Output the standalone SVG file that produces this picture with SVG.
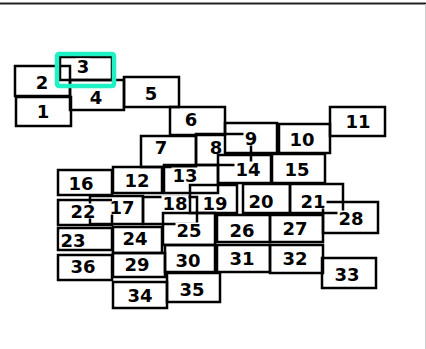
<svg xmlns="http://www.w3.org/2000/svg" width="426" height="349" viewBox="0 0 426 349">
<style>
.box{fill:none;stroke:#000;stroke-width:2.5}
.bg{fill:#fff;stroke:none}
.lbl{font-family:"DejaVu Sans","Verdana",sans-serif;font-weight:bold;font-size:18px;fill:#000;text-anchor:middle}
</style>
<rect x="0" y="0" width="426" height="349" fill="#fff"/>
<line x1="0" y1="3.5" x2="426" y2="3.5" stroke="#222" stroke-width="2"/>
<line x1="425.5" y1="4" x2="425.5" y2="349" stroke="#ccc" stroke-width="1"/>
<g id="connectors"></g>
<g id="n1"><rect class="box" x="16" y="97" width="55" height="29"/><rect class="bg" x="35.5" y="103.5" width="15" height="15"/><text class="lbl" x="43" y="117.5">1</text></g>
<g id="n2"><rect class="box" x="15" y="66" width="55" height="30"/><rect class="bg" x="34.5" y="74.5" width="15" height="15"/><text class="lbl" x="42" y="88.5">2</text></g>
<g id="n3"><rect class="box" x="60" y="57" width="52" height="23"/><rect class="bg" x="75.5" y="58.5" width="15" height="15"/><text class="lbl" x="83" y="72.5">3</text></g>
<g id="n4"><rect class="box" x="70" y="80" width="54" height="30"/><rect class="bg" x="88.5" y="89.5" width="15" height="15"/><text class="lbl" x="96" y="103.5">4</text></g>
<g id="n5"><rect class="box" x="124" y="77" width="55" height="30"/><rect class="bg" x="143.5" y="85.5" width="15" height="15"/><text class="lbl" x="151" y="99.5">5</text></g>
<g id="n6"><rect class="box" x="170" y="107" width="55" height="28"/><rect class="bg" x="183.5" y="111.5" width="15" height="15"/><text class="lbl" x="191" y="125.5">6</text></g>
<g id="n7"><rect class="box" x="141" y="136" width="55" height="31"/><rect class="bg" x="153.5" y="139.5" width="15" height="15"/><text class="lbl" x="161" y="153.5">7</text></g>
<g id="n8"><rect class="box" x="196" y="134" width="55" height="31"/><rect class="bg" x="208.5" y="139.5" width="15" height="15"/><text class="lbl" x="216" y="153.5">8</text></g>
<g id="n9"><rect class="box" x="225" y="123" width="52" height="30"/><rect class="bg" x="243.5" y="130.5" width="15" height="15"/><text class="lbl" x="251" y="144.5">9</text></g>
<g id="n10"><rect class="box" x="279" y="124" width="51" height="29"/><rect class="bg" x="288.5" y="131.5" width="27" height="15"/><text class="lbl" x="302" y="145.5">10</text></g>
<g id="n11"><rect class="box" x="330" y="107" width="55" height="29"/><rect class="bg" x="344.5" y="113.5" width="27" height="15"/><text class="lbl" x="358" y="127.5">11</text></g>
<g id="n12"><rect class="box" x="113" y="167" width="49" height="26"/><rect class="bg" x="123.5" y="172.5" width="27" height="15"/><text class="lbl" x="137" y="186.5">12</text></g>
<g id="n13"><rect class="box" x="164" y="165" width="54" height="28"/><rect class="bg" x="171.5" y="167.5" width="27" height="15"/><text class="lbl" x="185" y="181.5">13</text></g>
<g id="n14"><rect class="box" x="218" y="155" width="53" height="28"/><rect class="bg" x="234.5" y="161.5" width="27" height="15"/><text class="lbl" x="248" y="175.5">14</text></g>
<g id="n15"><rect class="box" x="272" y="154" width="53" height="29"/><rect class="bg" x="283.5" y="161.5" width="27" height="15"/><text class="lbl" x="297" y="175.5">15</text></g>
<g id="n16"><rect class="box" x="58" y="170" width="54" height="25"/><rect class="bg" x="67.5" y="175.5" width="27" height="15"/><text class="lbl" x="81" y="189.5">16</text></g>
<g id="n17"><rect class="box" x="90" y="196" width="53" height="28"/><rect class="bg" x="108.5" y="199.5" width="27" height="15"/><text class="lbl" x="122" y="213.5">17</text></g>
<g id="n18"><rect class="box" x="143" y="197" width="54" height="27"/><rect class="bg" x="161.5" y="195.5" width="27" height="15"/><text class="lbl" x="175" y="209.5">18</text></g>
<g id="n19"><rect class="box" x="190" y="185" width="47" height="28"/><rect class="bg" x="201.5" y="195.5" width="27" height="15"/><text class="lbl" x="215" y="209.5">19</text></g>
<g id="n20"><rect class="box" x="243" y="184" width="47" height="29"/><rect class="bg" x="247.5" y="193.5" width="27" height="15"/><text class="lbl" x="261" y="207.5">20</text></g>
<g id="n21"><rect class="box" x="290" y="184" width="53" height="29"/><rect class="bg" x="299.5" y="193.5" width="27" height="15"/><text class="lbl" x="313" y="207.5">21</text></g>
<g id="n22"><path class="box" d="M112 214.5 V225 H58 V200 H112"/><rect class="bg" x="69.5" y="203.5" width="27" height="15"/><text class="lbl" x="83" y="217.5">22</text></g>
<g id="n23"><rect class="box" x="58" y="228" width="54" height="22"/><rect class="bg" x="59.5" y="232.5" width="27" height="15"/><text class="lbl" x="73" y="246.5">23</text></g>
<g id="n24"><rect class="box" x="113" y="227" width="49" height="26"/><rect class="bg" x="121.5" y="230.5" width="27" height="15"/><text class="lbl" x="135" y="244.5">24</text></g>
<g id="n25"><rect class="box" x="163" y="213" width="52" height="32"/><rect class="bg" x="175.5" y="222.5" width="27" height="15"/><text class="lbl" x="189" y="236.5">25</text></g>
<g id="n26"><rect class="box" x="217" y="215" width="53" height="27"/><rect class="bg" x="228.5" y="222.5" width="27" height="15"/><text class="lbl" x="242" y="236.5">26</text></g>
<g id="n27"><rect class="box" x="270" y="215" width="53" height="27"/><rect class="bg" x="281.5" y="220.5" width="27" height="15"/><text class="lbl" x="295" y="234.5">27</text></g>
<g id="n28"><path class="box" d="M326.5 202 H378 V233 H323 V208.5"/><rect class="bg" x="337.5" y="210.5" width="27" height="15"/><text class="lbl" x="351" y="224.5">28</text></g>
<g id="n29"><rect class="box" x="113" y="253" width="52" height="24"/><rect class="bg" x="123.5" y="256.5" width="27" height="15"/><text class="lbl" x="137" y="270.5">29</text></g>
<g id="n30"><rect class="box" x="165" y="245" width="50" height="27"/><rect class="bg" x="174.5" y="252.5" width="27" height="15"/><text class="lbl" x="188" y="266.5">30</text></g>
<g id="n31"><rect class="box" x="217" y="245" width="53" height="27"/><rect class="bg" x="228.5" y="250.5" width="27" height="15"/><text class="lbl" x="242" y="264.5">31</text></g>
<g id="n32"><rect class="box" x="270" y="245" width="53" height="28"/><rect class="bg" x="281.5" y="250.5" width="27" height="15"/><text class="lbl" x="295" y="264.5">32</text></g>
<g id="n33"><rect class="box" x="322" y="258" width="54" height="30"/><rect class="bg" x="333.5" y="266.5" width="27" height="15"/><text class="lbl" x="347" y="280.5">33</text></g>
<g id="n34"><rect class="box" x="113" y="282" width="54" height="26"/><rect class="bg" x="126.5" y="287.5" width="27" height="15"/><text class="lbl" x="140" y="301.5">34</text></g>
<g id="n35"><rect class="box" x="167" y="273" width="53" height="29"/><rect class="bg" x="178.5" y="281.5" width="27" height="15"/><text class="lbl" x="192" y="295.5">35</text></g>
<g id="n36"><rect class="box" x="58" y="255" width="54" height="25"/><rect class="bg" x="69.5" y="258.5" width="27" height="15"/><text class="lbl" x="83" y="272.5">36</text></g>
<g id="highlight"><rect x="57" y="54" width="57" height="32" rx="2" fill="none" stroke="#1ef2c4" stroke-width="4.5"/></g>
</svg>
